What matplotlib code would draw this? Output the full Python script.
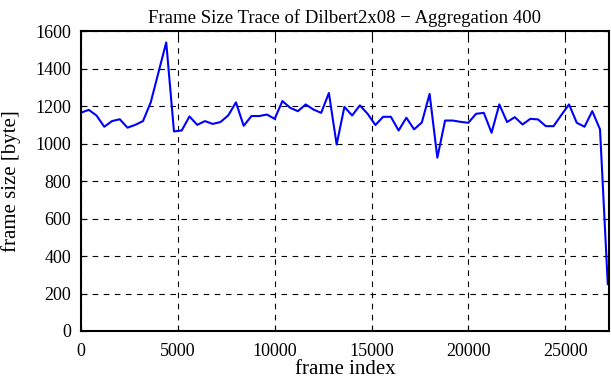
import numpy as np
import matplotlib
matplotlib.use('Agg')
from matplotlib import pyplot as plt

# aggregated frame sizes, one value per 400 frames
aggregation = 400
frame_size = [
    1165, 1180, 1150, 1090, 1120, 1130, 1085, 1100, 1120, 1220,
    1380, 1540, 1065, 1070, 1145, 1100, 1120, 1105, 1115, 1150,
    1220, 1095, 1147, 1147, 1155, 1132, 1227, 1191, 1173, 1209,
    1182, 1164, 1270, 995, 1196, 1150, 1204, 1159, 1099, 1143,
    1143, 1070, 1138, 1076, 1113, 1265, 925, 1123, 1123, 1116,
    1111, 1159, 1164, 1058, 1209, 1115, 1141, 1102, 1132, 1129,
    1093, 1093, 1152, 1209, 1111, 1090, 1173, 1076, 250,
]
frame_index = np.arange(len(frame_size)) * aggregation

plt.rcParams['font.family'] = ['Liberation Serif', 'DejaVu Serif']

fig = plt.figure(figsize=(6.11, 3.8), dpi=100)
ax = fig.add_axes([0.1326, 0.129, 0.864, 0.789])

ax.plot(frame_index, frame_size, color=(0, 0, 1), linewidth=1.5)

ax.set_xlim(0, frame_index[-1] + 60)
ax.set_ylim(0, 1600)
ax.set_xticks(range(0, 27000, 5000))
ax.set_yticks(range(0, 1601, 200))

ax.grid(True, color='black', linestyle=(0, (5, 5)), linewidth=0.8)
ax.tick_params(direction='in', top=True, right=True, length=4,
               labelsize=13, width=0.8)
ax.tick_params(axis='x', pad=9)
ax.tick_params(axis='y', pad=7)
for spine in ax.spines.values():
    spine.set_linewidth(1.5)

ax.set_title('Frame Size Trace of Dilbert2x08 \u2212 Aggregation 400',
             fontsize=13.5, pad=6)
ax.set_xlabel('frame index', fontsize=15, va='bottom')
ax.xaxis.set_label_coords(0.5, -0.16)
ax.set_ylabel('frame size [byte]', fontsize=15, va='top')
ax.yaxis.set_label_coords(-0.152, 0.5)

fig.savefig('out.png', dpi=100)
